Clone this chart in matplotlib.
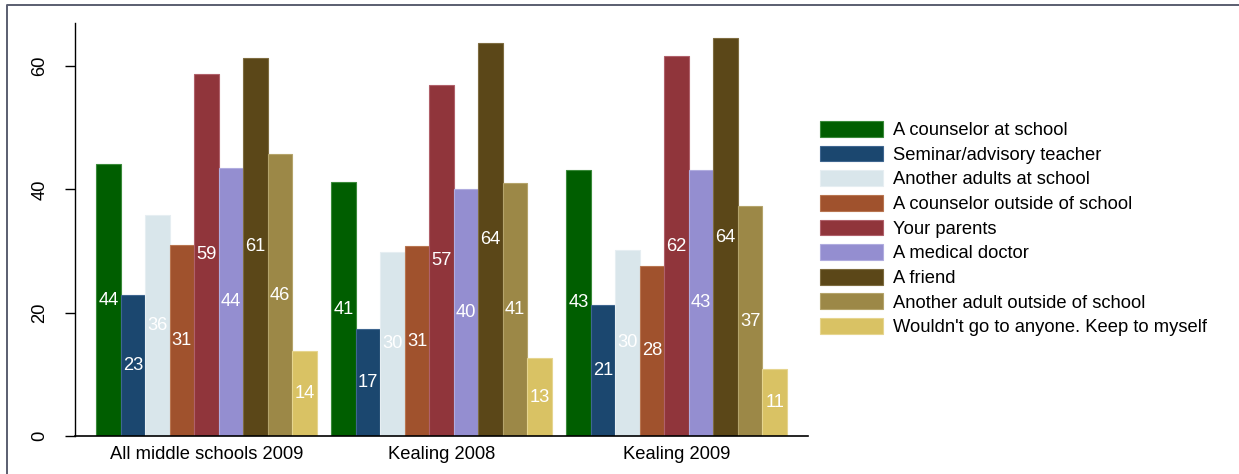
import numpy as np
import matplotlib
matplotlib.use("Agg")
import matplotlib.pyplot as plt
from matplotlib.lines import Line2D

plt.rcParams['font.family'] = ['Liberation Sans', 'DejaVu Sans']

# === Data ===
groups = ["All middle schools 2009", "Kealing 2008", "Kealing 2009"]
categories = [
    "A counselor at school",
    "Seminar/advisory teacher",
    "Another adults at school",
    "A counselor outside of school",
    "Your parents",
    "A medical doctor",
    "A friend",
    "Another adult outside of school",
    "Wouldn't go to anyone. Keep to myself",
]
all_ms_2009 = [44.1, 22.9, 35.9, 31.0, 58.8, 43.5, 61.4, 45.7, 13.8]
kealing_2008 = [41.2, 17.4, 29.9, 30.8, 57.0, 40.1, 63.8, 41.1, 12.6]
kealing_2009 = [43.2, 21.3, 30.2, 27.6, 61.6, 43.2, 64.5, 37.3, 10.9]
values = [all_ms_2009, kealing_2008, kealing_2009]

colors = ["#005e00", "#1b476f", "#d9e6eb", "#a0522d", "#90353b",
          "#948ed0", "#5b4718", "#9c8847", "#d9c264"]
edges = ["#3a8a3a", "#3f6690", "#e6eef2", "#b87550", "#b0606a",
         "#b0acdf", "#7e6c40", "#b5a46b", "#e6d58f"]

FS = 13.2

# === Layout ===
W, H = 1239, 474
fig = plt.figure(figsize=(W / 100, H / 100), dpi=100)
ax = fig.add_axes([75 / W, 1 - 436 / H, (808 - 75) / W, (436 - 23) / H])

gap = 0.6
n = len(categories)
starts = np.arange(len(groups)) * (n + gap)
handles = []
for j in range(n):
    xs = starts + j + 0.5
    hs = [values[g][j] for g in range(len(groups))]
    b = ax.bar(xs, hs, width=1.0, color=colors[j], edgecolor=edges[j],
               linewidth=0.8, label=categories[j])
    handles.append(b)
    for x, h in zip(xs, hs):
        ax.text(x, h / 2, f"{h:.0f}", ha="center", va="center",
                color="white", fontsize=FS)

ax.set_xlim(-0.86, starts[-1] + n + 0.86)
ax.set_ylim(0, 67)
ax.set_yticks([0, 20, 40, 60])
ax.set_yticklabels(["0", "20", "40", "60"], rotation=90, va="center",
                   fontsize=FS)
ax.set_xticks(starts + n / 2)
ax.set_xticklabels(groups, fontsize=FS)
ax.tick_params(axis="x", length=0, pad=7)
ax.tick_params(axis="y", length=7, width=1, pad=12)
for s in ["top", "right"]:
    ax.spines[s].set_visible(False)
ax.spines["left"].set_linewidth(1)
ax.spines["bottom"].set_linewidth(1.2)

leg = fig.legend(handles=handles, labels=categories, loc="upper left",
                 bbox_to_anchor=(820 / W, 1 - 121 / H), frameon=False,
                 fontsize=FS, handlelength=3.45, handleheight=0.95,
                 labelspacing=0.35, handletextpad=0.55, borderpad=0,
                 borderaxespad=0)

# outer frame (left and top edges visible)
fig.add_artist(Line2D([7 / W, 7 / W, 1], [0, 1 - 5 / H, 1 - 5 / H],
                      transform=fig.transFigure, color="#5a5e70", lw=1.4))

fig.savefig("out.png", dpi=100)
